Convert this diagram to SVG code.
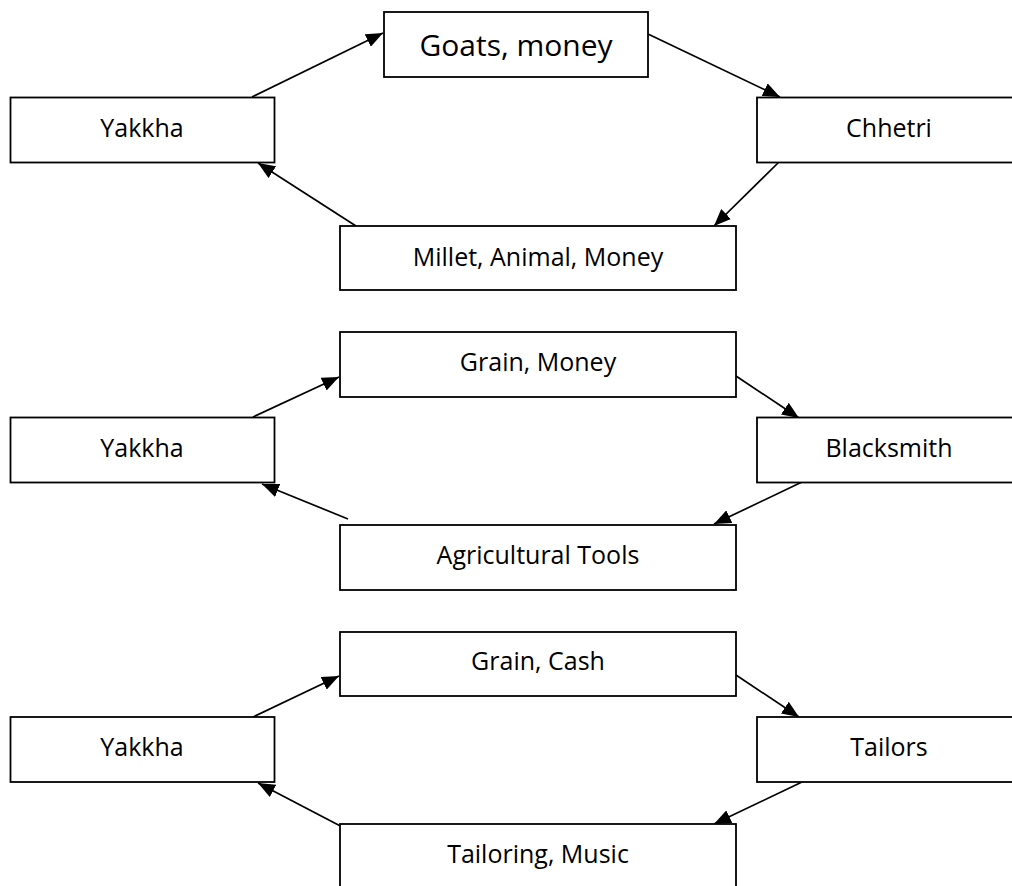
<svg xmlns="http://www.w3.org/2000/svg" width="1012" height="886" viewBox="0 0 1012 886">
<style>
.box{fill:#fff;stroke:#000;stroke-width:1.8}
.lbl{font-family:"Open Sans","Liberation Sans",sans-serif;font-size:25px;fill:#000;text-anchor:middle}
.big{font-size:30px}
.con{stroke:#000;stroke-width:1.7;fill:none;marker-end:url(#ah)}
</style>
<defs>
<marker id="ah" markerUnits="userSpaceOnUse" markerWidth="17" markerHeight="14" refX="17" refY="7" orient="auto">
<path d="M0,0 L17,7 L0,14 z" fill="#000"/>
</marker>
</defs>
<rect width="1012" height="886" fill="#fff"/>
<g id="connectors">
<line class="con" x1="252" y1="97" x2="383" y2="33"/>
<line class="con" x1="648" y1="34" x2="780" y2="97"/>
<line class="con" x1="779" y1="162" x2="714" y2="226"/>
<line class="con" x1="356" y1="226" x2="258" y2="163"/>
<line class="con" x1="253" y1="417" x2="339" y2="377"/>
<line class="con" x1="736" y1="376" x2="799" y2="418"/>
<line class="con" x1="802" y1="482" x2="714" y2="524"/>
<line class="con" x1="348" y1="519" x2="262" y2="484"/>
<line class="con" x1="253" y1="717" x2="339" y2="676"/>
<line class="con" x1="736" y1="675" x2="799" y2="717"/>
<line class="con" x1="802" y1="782" x2="714" y2="824"/>
<line class="con" x1="348" y1="830" x2="258" y2="783"/>
</g>
<g id="yakkha1"><rect class="box" x="10.5" y="97.5" width="264" height="65"/><text class="lbl" x="142" y="137">Yakkha</text></g>
<g id="goats"><rect class="box" x="384" y="12" width="264" height="65"/><text class="lbl big" x="516" y="56">Goats, money</text></g>
<g id="chhetri"><rect class="box" x="757" y="97.5" width="264" height="65"/><text class="lbl" x="889" y="137">Chhetri</text></g>
<g id="millet"><rect class="box" x="340" y="226" width="396" height="64"/><text class="lbl" x="538" y="266">Millet, Animal, Money</text></g>
<g id="yakkha2"><rect class="box" x="10.5" y="417.5" width="264" height="65"/><text class="lbl" x="142" y="457">Yakkha</text></g>
<g id="grainmoney"><rect class="box" x="340" y="332" width="396" height="65"/><text class="lbl" x="538" y="371">Grain, Money</text></g>
<g id="blacksmith"><rect class="box" x="757" y="417.5" width="264" height="65"/><text class="lbl" x="889" y="457">Blacksmith</text></g>
<g id="tools"><rect class="box" x="340" y="525" width="396" height="65"/><text class="lbl" x="538" y="564">Agricultural Tools</text></g>
<g id="yakkha3"><rect class="box" x="10.5" y="717" width="264" height="65"/><text class="lbl" x="142" y="756">Yakkha</text></g>
<g id="graincash"><rect class="box" x="340" y="632" width="396" height="64"/><text class="lbl" x="538" y="670">Grain, Cash</text></g>
<g id="tailors"><rect class="box" x="757" y="717" width="264" height="65"/><text class="lbl" x="889" y="756">Tailors</text></g>
<g id="tailoring"><rect class="box" x="340" y="824" width="396" height="66"/><text class="lbl" x="538" y="863">Tailoring, Music</text></g>
</svg>
